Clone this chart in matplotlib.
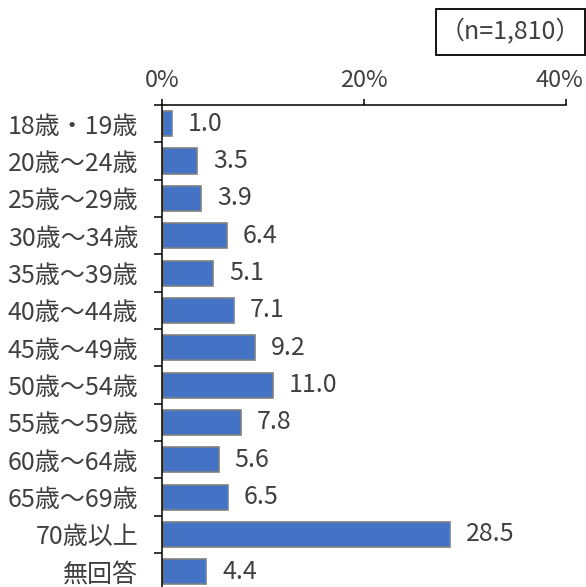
import matplotlib.pyplot as plt
from matplotlib.patches import Rectangle
from matplotlib.transforms import ScaledTranslation

plt.rcParams['font.family'] = ['Noto Sans CJK JP', 'DejaVu Sans']

# データ
categories = ['18歳・19歳', '20歳～24歳', '25歳～29歳', '30歳～34歳', '35歳～39歳',
              '40歳～44歳', '45歳～49歳', '50歳～54歳', '55歳～59歳', '60歳～64歳',
              '65歳～69歳', '70歳以上', '無回答']
values = [1.0, 3.5, 3.9, 6.4, 5.1, 7.1, 9.2, 11.0, 7.8, 5.6, 6.5, 28.5, 4.4]
xticks = [0, 20, 40]
xtick_labels = ['0%', '20%', '40%']
n_label = '（n=1,810）'

text_color = '#404040'
fsize = 18

fig = plt.figure(figsize=(5.86, 5.87), dpi=100)
ax = fig.add_axes([162 / 586, 0, (565.7 - 162) / 586, (587 - 105) / 587])

y = list(range(len(categories)))
ax.barh(y, values, height=0.67, color='#4472C4', edgecolor='#808080', linewidth=1.2)

# 数値ラベル
for yi, v in zip(y, values):
    ax.annotate(f'{v:.1f}', (v, yi), xytext=(11.5, 0), textcoords='offset points',
                va='center', ha='left', fontsize=fsize, color=text_color)

ax.set_xlim(0, 40)
ax.set_ylim(12.41, -0.5)

# 軸の設定
for s in ['right', 'bottom']:
    ax.spines[s].set_visible(False)
for s in ['left', 'top']:
    ax.spines[s].set_linewidth(1.1)
    ax.spines[s].set_color('black')

ax.xaxis.tick_top()
ax.set_xticks(xticks)
ax.set_xticklabels(xtick_labels)
ax.tick_params(axis='x', direction='out', length=4.3, width=1.1, pad=5,
               labelsize=17, labelcolor=text_color)
# 右端の 40% が切れないよう少し左へ
last = ax.xaxis.get_major_ticks()[-1].label2
last.set_transform(last.get_transform() + ScaledTranslation(-6 / 100, 0, fig.dpi_scale_trans))

ax.set_yticks(y)
ax.set_yticklabels(categories)
ax.set_yticks([i - 0.5 for i in range(len(categories))], minor=True)
ax.tick_params(axis='y', which='major', length=0, pad=17, labelsize=fsize,
               labelcolor=text_color)
ax.tick_params(axis='y', which='minor', direction='out', length=5.8, width=1.1)

# n の枠
fig.patches.append(Rectangle((436 / 586, 1 - 55 / 587), 149 / 586, 46 / 587,
                             transform=fig.transFigure, fill=False,
                             edgecolor='black', linewidth=1.3))
fig.text(510 / 586, 1 - 32 / 587, n_label, ha='center', va='center',
         fontsize=fsize, color=text_color)

fig.savefig('out.png', dpi=100)
